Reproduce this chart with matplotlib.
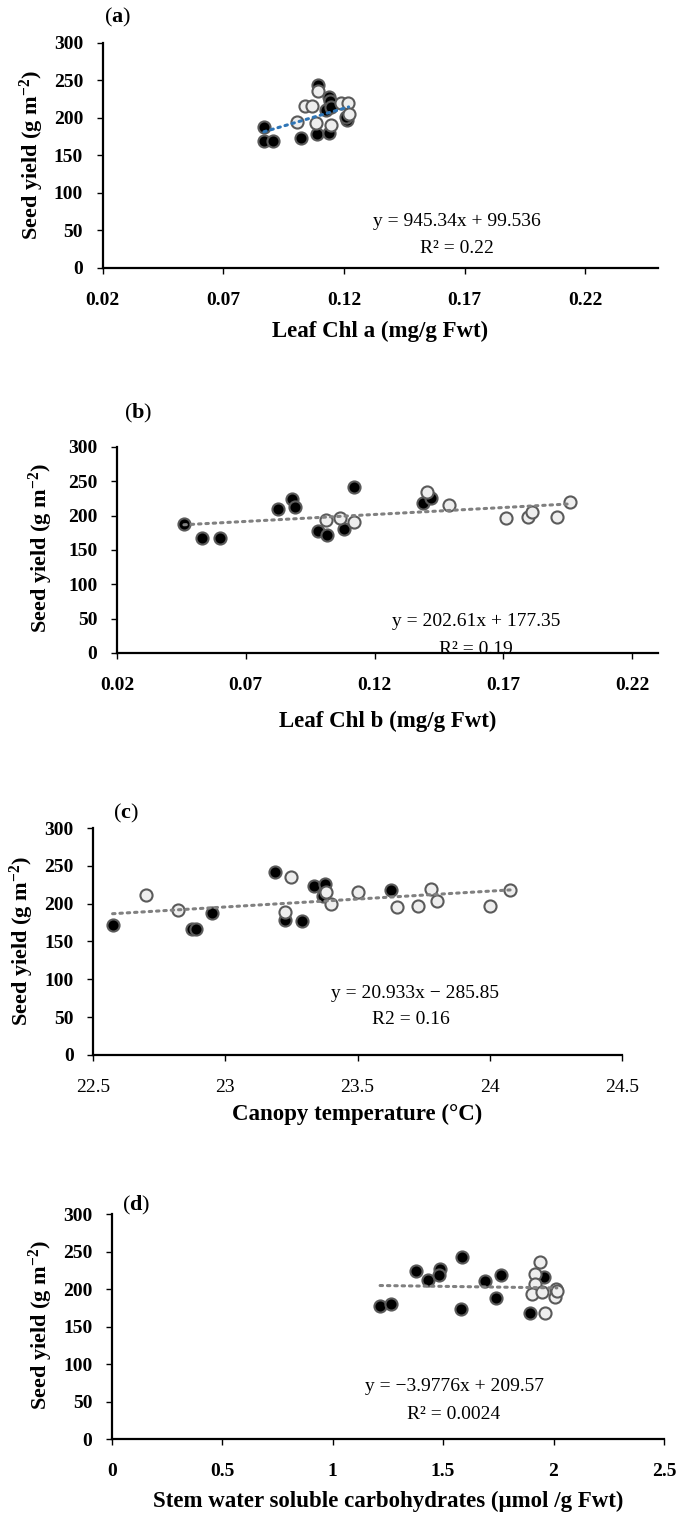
"""
seed yield vs physiological traits, four scatter panels with linear trendlines
"""
import numpy as np
import matplotlib
matplotlib.use("Agg")
import matplotlib.pyplot as plt

plt.rcParams['font.family'] = ['Liberation Serif', 'DejaVu Serif']
plt.rcParams['mathtext.fontset'] = 'custom'
plt.rcParams['mathtext.rm'] = 'Liberation Serif'
plt.rcParams['mathtext.bf'] = 'Liberation Serif:bold'
plt.rcParams['mathtext.default'] = 'regular'

# (a) leaf chl a
chla_black_x = [0.0868, 0.0868, 0.0904, 0.1023, 0.1087, 0.1091, 0.1136, 0.1136, 0.1142, 0.1125, 0.1147, 0.1211, 0.1209]
chla_black_y = [188, 169, 169, 173, 178, 244, 180, 228, 222, 211, 214, 197, 201]
chla_grey_x = [0.1091, 0.1038, 0.1068, 0.1004, 0.1084, 0.1146, 0.1186, 0.1216, 0.1219]
chla_grey_y = [236, 216, 216, 195, 193, 190, 220, 220, 205]

# (b) leaf chl b
chlb_black_x = [0.046, 0.053, 0.060, 0.0827, 0.088, 0.0893, 0.098, 0.1015, 0.108, 0.112, 0.139, 0.142]
chlb_black_y = [188, 167, 168, 210, 224, 212, 178, 172, 180, 242, 219, 226]
chlb_grey_x = [0.101, 0.1066, 0.112, 0.1405, 0.149, 0.171, 0.1795, 0.181, 0.191, 0.196]
chlb_grey_y = [193, 196, 190, 235, 216, 197, 198, 205, 198, 220]

# (c) canopy temperature
ct_black_x = [22.574, 22.873, 22.890, 22.949, 23.188, 23.224, 23.291, 23.337, 23.376, 23.371, 23.625]
ct_black_y = [172, 167, 166, 187, 242, 179, 177, 223, 226, 210, 218]
ct_grey_x = [22.70, 22.823, 23.224, 23.25, 23.381, 23.40, 23.50, 23.651, 23.727, 23.776, 23.80, 24.002, 24.077]
ct_grey_y = [212, 192, 189, 235, 215, 199, 216, 195, 197, 219, 204, 197, 218]

# (d) stem WSC
wsc_black_x = [1.215, 1.265, 1.377, 1.430, 1.486, 1.482, 1.586, 1.582, 1.689, 1.738, 1.763, 1.892, 1.955]
wsc_black_y = [178, 180, 224, 212, 227, 219, 243, 173, 211, 188, 219, 168, 216]
wsc_grey_x = [1.937, 1.918, 1.918, 1.904, 1.949, 1.962, 2.005, 2.009, 2.015]
wsc_grey_y = [236, 220, 207, 193, 196, 168, 190, 200, 197]

# trendline coefficients as printed on the panels
slopes = [945.34, 202.61, 20.933, -3.9776]
intercepts = [99.536, 177.35, -285.85, 209.57]
eq_texts = ['y = 945.34x + 99.536', 'y = 202.61x + 177.35',
            'y = 20.933x \u2212 285.85', 'y = \u22123.9776x + 209.57']
r2_texts = ['R\u00b2 = 0.22', 'R\u00b2 = 0.19', 'R2 = 0.16', 'R\u00b2 = 0.0024']

xlabels = ['Leaf Chl a (mg/g Fwt)', 'Leaf Chl b (mg/g Fwt)',
           'Canopy temperature (\u00b0C)', 'Stem water soluble carbohydrates (\u03bcmol /g Fwt)']
ylabels = ['Seed yield (g m$^{-2}$)', 'Seed yield (g m$^{\u22122}$)',
           'Seed yield (g m$^{\u22122}$)', 'Seed yield (g m$^{\u22122}$)']
panel_tags = ['a', 'b', 'c', 'd']

xlims = [(0.02, 0.25), (0.02, 0.23), (22.5, 24.5), (0, 2.5)]
xticks = [[0.02, 0.07, 0.12, 0.17, 0.22], [0.02, 0.07, 0.12, 0.17, 0.22],
          [22.5, 23, 23.5, 24, 24.5], [0, 0.5, 1, 1.5, 2, 2.5]]
xticklabels = [['0.02', '0.07', '0.12', '0.17', '0.22'], ['0.02', '0.07', '0.12', '0.17', '0.22'],
               ['22.5', '23', '23.5', '24', '24.5'], ['0', '0.5', '1', '1.5', '2', '2.5']]

blacks = [(chla_black_x, chla_black_y), (chlb_black_x, chlb_black_y),
          (ct_black_x, ct_black_y), (wsc_black_x, wsc_black_y)]
greys = [(chla_grey_x, chla_grey_y), (chlb_grey_x, chlb_grey_y),
         (ct_grey_x, ct_grey_y), (wsc_grey_x, wsc_grey_y)]

# layout (figure fractions) and text placement (axes fractions)
rects = [[0.1502, 0.8230, 0.8131, 0.1486],
         [0.1712, 0.5687, 0.7921, 0.1361],
         [0.1362, 0.3032, 0.7745, 0.1499],
         [0.1635, 0.0495, 0.8087, 0.1486]]
eq_pos = [(0.6375, 0.206), (0.664, 0.152), (0.608, 0.272), (0.621, 0.232)]
r2_pos = [(0.6375, 0.088), (0.664, 0.015), (0.601, 0.157), (0.619, 0.110)]
ylab_pos = [(-0.128, 0.5), (-0.140, 0.51), (-0.135, 0.5), (-0.128, 0.507)]
xlab_pos = [(0.5, -0.283), (0.5, -0.334), (0.5, -0.264), (0.5, -0.279)]
tag_pos = [(118, 17), (138.5, 413), (125.5, 813), (136, 1205)]
line_colors = ['#2e75b6', '#808080', '#808080', '#808080']

fig = plt.figure(figsize=(6.83, 15.14), dpi=100)

for i in range(4):
    ax = fig.add_axes(rects[i])
    bx, by = blacks[i]
    gx, gy = greys[i]
    ax.scatter(bx, by, s=76, c='#000000', edgecolors='#5a5a5a', linewidths=1.5, zorder=3)
    ax.scatter(gx, gy, s=76, c='#eeeeee', edgecolors='#5a5a5a', linewidths=1.5, zorder=3)

    allx = np.array(bx + gx)
    tx = np.array([allx.min(), allx.max()])
    ax.plot(tx, slopes[i] * tx + intercepts[i], color=line_colors[i], lw=2.2,
            linestyle=(0, (0.8, 1.6)), dash_capstyle='round', zorder=4)

    ax.set_xlim(*xlims[i])
    ax.set_ylim(0, 300)
    ax.set_yticks(range(0, 301, 50))
    ax.set_xticks(xticks[i])
    weight = 'normal' if i == 2 else 'bold'
    ax.set_xticklabels(xticklabels[i], fontsize=14, fontweight=weight)
    ax.set_yticklabels([str(v) for v in range(0, 301, 50)], fontsize=14, fontweight='bold')

    for s in ['top', 'right']:
        ax.spines[s].set_visible(False)
    for s in ['left', 'bottom']:
        ax.spines[s].set_linewidth(1.6)
        ax.spines[s].set_zorder(5)
    ax.tick_params(axis='both', direction='out', length=4.5, width=1.0)
    ax.tick_params(axis='x', pad=12.5)
    ax.tick_params(axis='y', pad=9.5)

    ax.set_xlabel(xlabels[i], fontsize=16.5, fontweight='bold', va='center')
    ax.xaxis.set_label_coords(*xlab_pos[i])
    ax.set_ylabel(ylabels[i], fontsize=16, fontweight='bold', va='center')
    ax.yaxis.set_label_coords(*ylab_pos[i])

    ax.text(eq_pos[i][0], eq_pos[i][1], eq_texts[i], transform=ax.transAxes,
            ha='center', va='center', fontsize=14, zorder=2)
    ax.text(r2_pos[i][0], r2_pos[i][1], r2_texts[i], transform=ax.transAxes,
            ha='center', va='center', fontsize=14, zorder=2)

    fig.text(tag_pos[i][0] / 683, 1 - tag_pos[i][1] / 1514,
             '($\\mathbf{' + panel_tags[i] + '}$)', ha='center', va='center', fontsize=16)

fig.savefig('out.png', dpi=100)
